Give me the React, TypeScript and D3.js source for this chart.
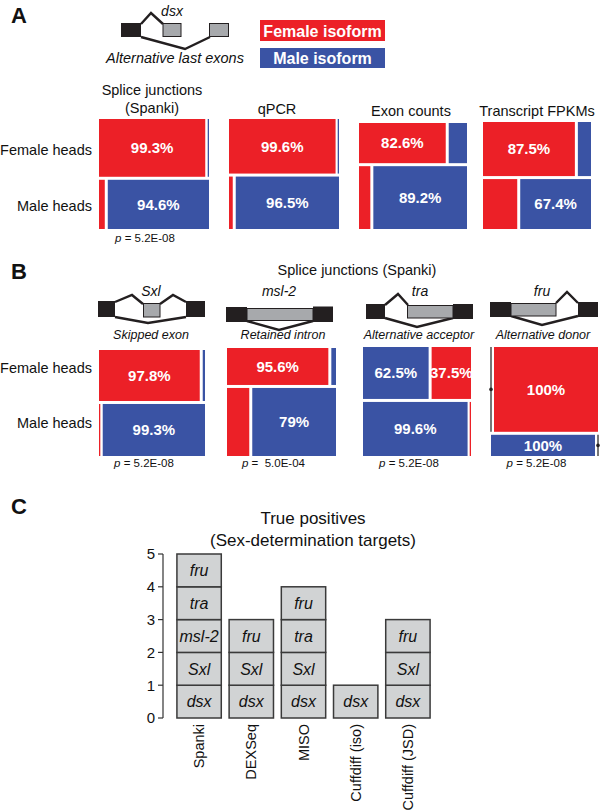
import React from 'react';
import * as d3 from 'd3';

// ---------- Data ----------
// Panel A: dsx isoform proportions per method
const aTitles: string[][] = [['Splice junctions', '(Spanki)'], ['qPCR'], ['Exon counts'], ['Transcript FPKMs']];
const aFemaleRed: number[] = [99.3, 99.6, 82.6, 87.5];
const aMaleBlue: number[] = [94.6, 96.5, 89.2, 67.4];
const aFemaleRowShare: number[] = [0.54, 0.51, 0.39, 0.52];
const aPValues: string[] = ['p = 5.2E-08', '', '', ''];

// Panel B: Spanki splice junctions, sex-determination genes
const bGenes: string[] = ['Sxl', 'msl-2', 'tra', 'fru'];
const bEvents: string[] = ['Skipped exon', 'Retained intron', 'Alternative acceptor', 'Alternative donor'];
const bFemaleRed: number[] = [97.8, 95.6, 37.5, 100];
const bMaleBlue: number[] = [99.3, 79, 99.6, 100];
const bFemaleRowShare: number[] = [0.495, 0.352, 0.49, 0.8];
const bBlueFirst: boolean[] = [false, false, true, true];
const bPValues: string[] = ['p = 5.2E-08', 'p =  5.0E-04', 'p = 5.2E-08', 'p = 5.2E-08'];

// Panel C: true positives
const cMethods: string[] = ['Spanki', 'DEXSeq', 'MISO', 'Cuffdiff (iso)', 'Cuffdiff (JSD)'];
const cTargets: string[][] = [
  ['dsx', 'Sxl', 'msl-2', 'tra', 'fru'],
  ['dsx', 'Sxl', 'fru'],
  ['dsx', 'Sxl', 'tra', 'fru'],
  ['dsx'],
  ['dsx', 'Sxl', 'fru'],
];
const cTicks: number[] = [0, 1, 2, 3, 4, 5];
const rowLabels: string[] = ['Female heads', 'Male heads'];

// ---------- Style / layout ----------
const RED = '#ec2027';
const BLUE = '#3a53a4';
const INK = '#231f20';
const GRAYEX = '#a7a9ac';
const FONT = '"Liberation Sans", Arial, Helvetica, sans-serif';

const aCols = [[99, 209], [229, 339], [359, 467], [483, 591]];
const aTops = [119, 119, 123, 122];
const aBottom = 229;
const aTitleX = [152, 277, 411, 537];
const bCols = [[99, 205], [227, 336], [363, 471], [491, 598]];
const bTops = [350, 348, 347, 347];
const bBottom = 456;

const fmtPct = (s: number) => `${+(s * 100).toFixed(1)}%`;

type MosaicProps = {
  x0: number; x1: number; y0: number; y1: number;
  share: number; femaleRed: number; maleBlue: number; blueFirst: boolean;
};

function Mosaic({ x0, x1, y0, y1, share, femaleRed, maleBlue, blueFirst }: MosaicProps) {
  const vgap = 3, hgap = 3;
  const yS = d3.scaleLinear().domain([0, 1]).range([y0, y1 - vgap]);
  const xS = d3.scaleLinear().domain([0, 1]).range([x0, x1 - hgap]);
  const fy = yS(share);
  const rows = [
    { top: y0, bottom: fy, red: femaleRed / 100 },
    { top: fy + vgap, bottom: y1, red: 1 - maleBlue / 100 },
  ];
  const out: React.ReactNode[] = [];
  rows.forEach((r, ri) => {
    const cells = blueFirst
      ? [{ c: BLUE, s: 1 - r.red }, { c: RED, s: r.red }]
      : [{ c: RED, s: r.red }, { c: BLUE, s: 1 - r.red }];
    const split = xS(cells[0].s);
    const spans = [
      [x0, split],
      [split + hgap, x1],
    ];
    cells.forEach((cell, ci) => {
      let [a, b] = spans[ci];
      const key = `${ri}-${ci}`;
      if (cell.s <= 0.0001) {
        const lx = ci === 0 ? x0 : x1;
        const my = (r.top + r.bottom) / 2;
        out.push(
          <g key={key}>
            <line x1={lx} x2={lx} y1={r.top} y2={r.bottom} stroke="#555" strokeWidth={1.6} />
            <circle cx={lx} cy={my} r={1.8} fill={INK} />
          </g>
        );
        return;
      }
      if (b - a < 1.3) {
        if (ci === 0) b = a + 1.3; else a = b - 1.3;
      }
      out.push(<rect key={key} x={a} y={r.top} width={b - a} height={r.bottom - r.top} fill={cell.c} />);
      if (cell.s > 0.35) {
        out.push(
          <text key={key + 't'} x={(a + b) / 2} y={(r.top + r.bottom) / 2} dy="0.36em" textAnchor="middle"
            fill="#fff" fontWeight="bold" fontSize={15}>{fmtPct(cell.s)}</text>
        );
      }
    });
  });
  return <g>{out}</g>;
}

function GeneDiagrams() {
  const ln = { fill: 'none', stroke: INK, strokeWidth: 2.4, strokeLinejoin: 'miter' as const };
  const gx = { fill: GRAYEX, stroke: INK, strokeWidth: 1 };
  return (
    <g>
      {/* dsx */}
      <polyline points="141,24 151,13 163,24" {...ln} />
      <polyline points="141,37 185,49 210,37" {...ln} />
      <rect x={121} y={23} width={20} height={14} fill={INK} />
      <rect x={163} y={23.5} width={18} height={13} {...gx} />
      <rect x={209.5} y={23.5} width={19} height={13} {...gx} />
      {/* Sxl */}
      <polyline points="115,302 132,295 143,304" {...ln} />
      <polyline points="160,304 173,295 186,302" {...ln} />
      <polyline points="115,317 148,323 186,317" {...ln} />
      <rect x={98} y={301} width={17} height={16} fill={INK} />
      <rect x={143.5} y={303.5} width={16.5} height={13.5} {...gx} />
      <rect x={186} y={301} width={19} height={16} fill={INK} />
      {/* msl-2 */}
      <polyline points="247,321 279,330 313,321" {...ln} />
      <rect x={226} y={307} width={21} height={15} fill={INK} />
      <rect x={313} y={306.5} width={20} height={15.5} fill={INK} />
      <rect x={247} y={308.5} width={66} height={12} {...gx} />
      {/* tra */}
      <polyline points="385,305 398,294 408,305" {...ln} />
      <polyline points="385,318 417,327 453,318" {...ln} />
      <rect x={366} y={304} width={19} height={15} fill={INK} />
      <rect x={453} y={304} width={20} height={15} fill={INK} />
      <rect x={407.5} y={305.5} width={45.5} height={12.5} {...gx} />
      {/* fru */}
      <polyline points="556,303 567,292 578,303" {...ln} />
      <polyline points="511,316 542,325 578,316" {...ln} />
      <rect x={490} y={302} width={21} height={15} fill={INK} />
      <rect x={578} y={302} width={20} height={15} fill={INK} />
      <rect x={511} y={303.5} width={45} height={12.5} {...gx} />
    </g>
  );
}

function PanelC() {
  const y = d3.scaleLinear().domain([0, 5]).range([718, 554]);
  const x = d3.scaleBand<string>().domain(cMethods).range([173, 434]).paddingInner(0.15).paddingOuter(0.075);
  const axisX = 163;
  return (
    <g>
      <text x={313} y={524} textAnchor="middle" fontSize={17}>True positives</text>
      <text x={313} y={546} textAnchor="middle" fontSize={17}>(Sex-determination targets)</text>
      <line x1={axisX} x2={axisX} y1={y(0)} y2={y(5)} stroke="#333" strokeWidth={1.2} />
      {cTicks.map((t) => (
        <g key={t}>
          <line x1={axisX - 5} x2={axisX} y1={y(t)} y2={y(t)} stroke="#333" strokeWidth={1.2} />
          <text x={axisX - 8} y={y(t)} dy="0.36em" textAnchor="end" fontSize={15}>{t}</text>
        </g>
      ))}
      {cMethods.map((m, i) => {
        const bx = x(m) as number;
        const bw = x.bandwidth();
        return (
          <g key={m}>
            {cTargets[i].map((g, j) => (
              <g key={g}>
                <rect x={bx} y={y(j + 1)} width={bw} height={y(j) - y(j + 1)} fill="#d1d3d4" stroke="#3a3a3a" strokeWidth={1.5} />
                <text x={bx + bw / 2} y={(y(j) + y(j + 1)) / 2} dy="0.36em" textAnchor="middle" fontStyle="italic" fontSize={16}>{g}</text>
              </g>
            ))}
            <text transform={`translate(${bx + bw / 2 + 5},724) rotate(-90)`} textAnchor="end" fontSize={14.5}>{m}</text>
          </g>
        );
      })}
    </g>
  );
}

export default function App() {
  return (
    <svg width={600} height={810} style={{ position: 'absolute', left: 0, top: 0, background: '#fff' }}
      fontFamily={FONT} fill="#111">
      {/* Panel letters */}
      <text x={11} y={23} fontSize={22} fontWeight="bold">A</text>
      <text x={11} y={279} fontSize={22} fontWeight="bold">B</text>
      <text x={11} y={514} fontSize={22} fontWeight="bold">C</text>

      {/* Panel A header */}
      <GeneDiagrams />
      <text x={172} y={16} textAnchor="middle" fontStyle="italic" fontSize={14}>dsx</text>
      <text x={175} y={63} textAnchor="middle" fontStyle="italic" fontSize={14.5}>Alternative last exons</text>
      <rect x={260} y={20} width={125} height={21} fill={RED} />
      <text x={322.5} y={36.5} textAnchor="middle" fill="#fff" fontWeight="bold" fontSize={16}>Female isoform</text>
      <rect x={260} y={48} width={125} height={20} fill={BLUE} />
      <text x={322.5} y={64} textAnchor="middle" fill="#fff" fontWeight="bold" fontSize={16}>Male isoform</text>

      {/* Panel A mosaics */}
      {aTitles.map((lines, i) => (
        <g key={'at' + i}>
          {lines.map((l, k) => (
            <text key={k} x={aTitleX[i]} y={(lines.length === 2 ? 95 : 114) + k * 18 + (i >= 2 ? 1.5 : 0)}
              textAnchor="middle" fontSize={14.5}>{l}</text>
          ))}
          <Mosaic x0={aCols[i][0]} x1={aCols[i][1]} y0={aTops[i]} y1={aBottom} share={aFemaleRowShare[i]}
            femaleRed={aFemaleRed[i]} maleBlue={aMaleBlue[i]} blueFirst={false} />
          {aPValues[i] && (
            <text x={(aCols[i][0] + aCols[i][1]) / 2 - 9} y={242} textAnchor="middle" fontSize={11.5} style={{ whiteSpace: 'pre' }}>
              <tspan fontStyle="italic">p</tspan>{aPValues[i].slice(1)}
            </text>
          )}
        </g>
      ))}
      <text x={92} y={155} textAnchor="end" fontSize={14.5}>{rowLabels[0]}</text>
      <text x={92} y={211} textAnchor="end" fontSize={14.5}>{rowLabels[1]}</text>

      {/* Panel B */}
      <text x={357} y={275} textAnchor="middle" fontSize={14.5}>Splice junctions (Spanki)</text>
      {bGenes.map((g, i) => {
        const cx = (bCols[i][0] + bCols[i][1]) / 2;
        return (
          <g key={g}>
            <text x={[151, 279, 420, 542][i]} y={296} textAnchor="middle" fontStyle="italic" fontSize={14}>{g}</text>
            <text x={[151, 283, 419, 543][i]} y={339} textAnchor="middle" fontStyle="italic" fontSize={12.5}>{bEvents[i]}</text>
            <Mosaic x0={bCols[i][0]} x1={bCols[i][1]} y0={bTops[i]} y1={bBottom} share={bFemaleRowShare[i]}
              femaleRed={bFemaleRed[i]} maleBlue={bMaleBlue[i]} blueFirst={bBlueFirst[i]} />
            <text x={cx - 8} y={467} textAnchor="middle" fontSize={11.5} style={{ whiteSpace: 'pre' }}>
              <tspan fontStyle="italic">p</tspan>{bPValues[i].slice(1)}
            </text>
          </g>
        );
      })}
      <text x={92} y={373} textAnchor="end" fontSize={14.5}>{rowLabels[0]}</text>
      <text x={92} y={428} textAnchor="end" fontSize={14.5}>{rowLabels[1]}</text>

      <PanelC />
    </svg>
  );
}
